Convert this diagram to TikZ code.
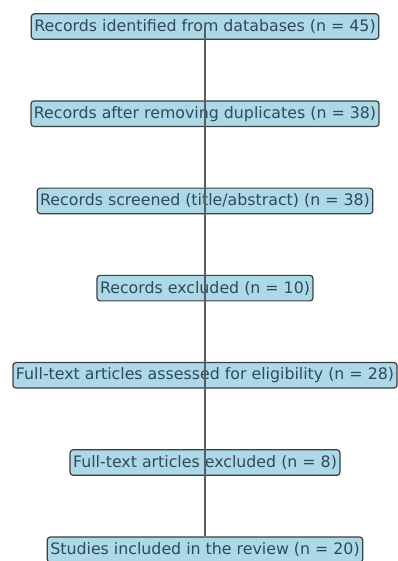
\documentclass[tikz,border=0pt]{standalone}
\usepackage{fontspec}
\setmainfont{DejaVu Sans}
\usepackage{xcolor}
\usetikzlibrary{positioning}

\definecolor{boxfill}{HTML}{ADD8E6}
\definecolor{boxtext}{HTML}{2E4A5C}
\definecolor{boxline}{HTML}{3A3F44}

\begin{document}
\begin{tikzpicture}[
    node distance=60.5pt,
    stagebox/.style={draw=boxline, line width=1.2pt, fill=boxfill, rounded corners=3pt,
        minimum height=25.5pt, inner xsep=3pt, inner ysep=2pt, text=boxtext,
        font=\fontsize{15.8}{18}\selectfont},
    flowline/.style={draw=boxline!85, line width=1.6pt}
]

  \useasboundingbox (0,0) rectangle (398pt,-561pt);

  % Nodes
  \node[stagebox] (identified) at (205pt,-26.5pt) {Records identified from databases (n = 45)};
  \node[stagebox, below=of identified] (dedup) {Records after removing duplicates (n = 38)};
  \node[stagebox, below=of dedup] (screened) {Records screened (title/abstract) (n = 38)};
  \node[stagebox, below=of screened] (excluded) {Records excluded (n = 10)};
  \node[stagebox, below=of excluded] (assessed) {Full-text articles assessed for eligibility (n = 28)};
  \node[stagebox, below=of assessed] (ftexcluded) {Full-text articles excluded (n = 8)};
  \node[stagebox, below=of ftexcluded] (included) {Studies included in the review (n = 20)};

  % Lines
  \draw[flowline] (identified.center) -- (dedup.center);
  \draw[flowline] (dedup.center) -- (screened.center);
  \draw[flowline] (screened.center) -- (excluded.center);
  \draw[flowline] (excluded.center) -- (assessed.center);
  \draw[flowline] (assessed.center) -- (ftexcluded.center);
  \draw[flowline] (ftexcluded.center) -- (included.north);

\end{tikzpicture}
\end{document}
